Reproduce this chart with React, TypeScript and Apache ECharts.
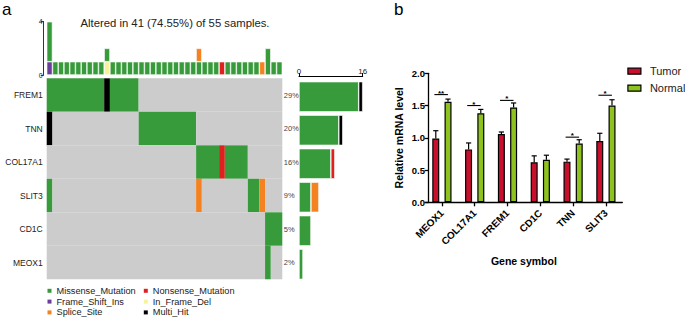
import React, { useEffect, useRef } from "react";
import * as echarts from "echarts";

const FONT = "'Liberation Sans', Arial, Helvetica, sans-serif";

// ---------- Panel a: oncoplot ----------
const totalSamples = 55;
const genesA = ["FREM1", "TNN", "COL17A1", "SLIT3", "CD1C", "MEOX1"];
const pctLabels = ["29%", "20%", "16%", "9%", "5%", "2%"];

// one character per altered sample (41 columns): M missense, H multi-hit, N nonsense, S splice site, . none
const FREM1_ROW = "MMMMMMMMMM" + "HMMMMM...." + ".........." + ".........." + ".";
const TNN_ROW = "H........." + "......MMMM" + "MMMMMM...." + ".........." + ".";
const COL17A1_ROW = ".........." + ".........." + "......MMMM" + "NMMMM....." + ".";
const SLIT3_ROW = "M........." + ".........." + "......S..." + ".....MMS.." + ".";
const CD1C_ROW = ".........." + ".........." + ".........." + "........MM" + "M";
const MEOX1_ROW = ".........." + ".........." + ".........." + "........M." + ".";
const geneRows = [FREM1_ROW, TNN_ROW, COL17A1_ROW, SLIT3_ROW, CD1C_ROW, MEOX1_ROW];

// top bar: mutation counts per sample
const topMissense = [3,1,1,1,1,1,1,1,1,1, 1,1,1,1,1,1,1,1,1,1, 1,1,1,1,1,1,1,1,1,1, 0,1,1,1,1,1,1,0,2,1, 1];
const topFrameShift = [1,0,0,0,0,0,0,0,0,0, 0,0,0,0,0,0,0,0,0,0, 0,0,0,0,0,0,0,0,0,0, 0,0,0,0,0,0,0,0,0,0, 0];
const topInFrameDel = [0,0,0,0,0,0,0,0,0,0, 1,0,0,0,0,0,0,0,0,0, 0,0,0,0,0,0,0,0,0,0, 0,0,0,0,0,0,0,0,0,0, 0];
const topSplice = [0,0,0,0,0,0,0,0,0,0, 0,0,0,0,0,0,0,0,0,0, 0,0,0,0,0,0,1,0,0,0, 0,0,0,0,0,0,0,1,0,0, 0];
const topNonsense = [0,0,0,0,0,0,0,0,0,0, 0,0,0,0,0,0,0,0,0,0, 0,0,0,0,0,0,0,0,0,0, 1,0,0,0,0,0,0,0,0,0, 0];

// right bar: samples per gene by type
const rightMissense = [15, 10, 8, 3, 3, 1];
const rightMulti = [1, 1, 0, 0, 0, 0];
const rightNonsense = [0, 0, 1, 0, 0, 0];
const rightSplice = [0, 0, 0, 2, 0, 0];
const rightTicks = [0, 16];

// ---------- Panel b: qPCR ----------
const genesB = ["MEOX1", "COL17A1", "FREM1", "CD1C", "TNN", "SLIT3"];
const tumor = [0.99, 0.82, 1.06, 0.62, 0.63, 0.95];
const tumorErr = [1.11, 0.92, 1.09, 0.72, 0.67, 1.07];
const normal = [1.56, 1.38, 1.47, 0.66, 0.91, 1.5];
const normalErr = [1.6, 1.44, 1.54, 0.73, 0.97, 1.59];
const sigLabels = ["**", "*", "*", "", "*", "*"];
const sigY = [1.67, 1.5, 1.58, 0, 1.01, 1.66];

const COLORS: Record<string, string> = {
  Missense_Mutation: "#389b3b",
  Nonsense_Mutation: "#e0201f",
  Frame_Shift_Ins: "#6a3d9a",
  In_Frame_Del: "#f7f39a",
  Splice_Site: "#f58220",
  Multi_Hit: "#000000",
};
const codeTypes = [".", "M", "H", "N", "S"];
const codeColors = ["#cccccc", COLORS.Missense_Mutation, COLORS.Multi_Hit, COLORS.Nonsense_Mutation, COLORS.Splice_Site];

const TUMOR_COLOR = "#c8102e";
const NORMAL_COLOR = "#8dc21f";

function buildOption() {
  const nAltered = FREM1_ROW.length;
  const samples = Array.from({ length: nAltered }, (_, i) => "S" + (i + 1));
  const titleText = `Altered in ${nAltered} (${((nAltered / totalSamples) * 100).toFixed(2)}%) of ${totalSamples} samples.`;
  const z = (arr: number[]) => arr.map((v) => (v === 0 ? "-" : v));

  // merge consecutive identical cells of each gene row into runs: [startCol, endCol, row, code]
  const matrixData: number[][] = [];
  geneRows.forEach((row, r) => {
    let start = 0;
    for (let c = 1; c <= row.length; c++) {
      if (c === row.length || row[c] !== row[start]) {
        matrixData.push([start, c - 1, r, codeTypes.indexOf(row[start])]);
        start = c;
      }
    }
  });

  const topBar = (name: string, data: number[]) => ({
    type: "bar",
    name,
    xAxisIndex: 0,
    yAxisIndex: 0,
    stack: "tmb",
    barCategoryGap: "0%",
    data: z(data),
    itemStyle: { color: COLORS[name], borderColor: "#ffffff", borderWidth: 0.6 },
    silent: true,
  });
  const rightBar = (name: string, data: number[]) => ({
    type: "bar",
    name,
    xAxisIndex: 2,
    yAxisIndex: 3,
    stack: "gene",
    barCategoryGap: "10%",
    data: z(data),
    itemStyle: { color: COLORS[name], borderColor: "#ffffff", borderWidth: 0.6 },
    silent: true,
  });

  const errData = [
    ...tumor.map((v, i) => [i, v, tumorErr[i], -1]),
    ...normal.map((v, i) => [i, v, normalErr[i], 1]),
  ];
  const sigData = sigY.map((v, i) => [i, v]).filter((d) => sigLabels[d[0]] !== "");

  const legendText = { fontSize: 9.2, lineHeight: 10, color: "#222" };

  return {
    animation: false,
    backgroundColor: "#ffffff",
    textStyle: { fontFamily: FONT },
    grid: [
      { left: 46.7, top: 21.7, width: 235.6, height: 53.3 },
      { left: 46.7, top: 78.3, width: 235.6, height: 201 },
      { left: 299, top: 80, width: 63.7, height: 201 },
      { left: 425.5, top: 73.3, width: 196.8, height: 129 },
    ],
    xAxis: [
      { type: "category", gridIndex: 0, data: samples, show: false },
      { type: "category", gridIndex: 1, data: samples, show: false },
      {
        type: "value",
        gridIndex: 2,
        position: "top",
        offset: 4,
        min: rightTicks[0],
        max: rightTicks[1],
        interval: rightTicks[1],
        axisLine: { show: true, lineStyle: { color: "#000", width: 1 } },
        axisTick: { show: true, length: 3, lineStyle: { color: "#000", width: 1 } },
        axisLabel: { fontSize: 8, margin: 1, color: "#222" },
        splitLine: { show: false },
      },
      {
        type: "category",
        gridIndex: 3,
        data: genesB,
        axisLine: { show: true, lineStyle: { color: "#000", width: 1.3 } },
        axisTick: { show: true, alignWithLabel: true, length: 4, lineStyle: { color: "#000", width: 1.3 } },
        axisLabel: { rotate: 45, fontSize: 10, fontWeight: "bold", color: "#000", margin: 9, interval: 0 },
        name: "Gene symbol",
        nameLocation: "middle",
        nameGap: 53,
        nameTextStyle: { fontSize: 10.5, fontWeight: "bold", color: "#000" },
      },
    ],
    yAxis: [
      {
        type: "value",
        gridIndex: 0,
        min: 0,
        max: 4,
        interval: 4,
        offset: 3,
        axisLine: { show: true, lineStyle: { color: "#000", width: 0.8 } },
        axisTick: { show: true, length: 3, lineStyle: { color: "#000", width: 0.8 } },
        axisLabel: { fontSize: 7, margin: 1, color: "#222" },
        splitLine: { show: false },
      },
      {
        type: "category",
        gridIndex: 1,
        data: genesA,
        inverse: true,
        axisLine: { show: false },
        axisTick: { show: false },
        axisLabel: { fontSize: 8.5, margin: 4, color: "#222" },
      },
      {
        type: "category",
        gridIndex: 1,
        position: "right",
        data: pctLabels,
        inverse: true,
        axisLine: { show: false },
        axisTick: { show: false },
        axisLabel: { fontSize: 7.5, margin: 1.5, color: "#444" },
      },
      { type: "category", gridIndex: 2, data: genesA, inverse: true, show: false },
      {
        type: "value",
        gridIndex: 3,
        min: 0,
        max: 2,
        interval: 0.5,
        offset: -3,
        axisLine: { show: true, lineStyle: { color: "#000", width: 1.3 } },
        axisTick: { show: true, length: 4, lineStyle: { color: "#000", width: 1.3 } },
        axisLabel: {
          fontSize: 9.5,
          fontWeight: "bold",
          color: "#000",
          margin: 3.5,
          formatter: (v: number) => v.toFixed(1),
        },
        splitLine: { show: false },
        name: "Relative mRNA level",
        nameLocation: "middle",
        nameGap: 24,
        nameRotate: 90,
        nameTextStyle: { fontSize: 10.5, fontWeight: "bold", color: "#000" },
      },
    ],
    legend: [
      {
        data: ["Missense_Mutation", "Frame_Shift_Ins", "Splice_Site"],
        orient: "vertical",
        left: 47.5,
        top: 285.8,
        padding: 0,
        itemWidth: 4,
        itemHeight: 4,
        itemGap: 0.8,
        icon: "rect",
        selectedMode: false,
        itemStyle: { borderWidth: 0 },
        textStyle: legendText,
      },
      {
        data: ["Nonsense_Mutation", "In_Frame_Del", "Multi_Hit"],
        orient: "vertical",
        left: 143.8,
        top: 285.8,
        padding: 0,
        itemWidth: 4,
        itemHeight: 4,
        itemGap: 0.8,
        icon: "rect",
        selectedMode: false,
        itemStyle: { borderWidth: 0 },
        textStyle: legendText,
      },
      {
        data: ["Tumor", "Normal"],
        orient: "vertical",
        left: 627.3,
        top: 65.2,
        padding: 0,
        itemWidth: 13,
        itemHeight: 6,
        itemGap: 5,
        icon: "rect",
        selectedMode: false,
        itemStyle: { borderColor: "#000", borderWidth: 1.2 },
        textStyle: { fontSize: 11, lineHeight: 12, color: "#222", padding: [0, 0, 0, 4] },
      },
    ],
    graphic: [
      { type: "text", x: 2, y: 9, style: { text: "a", fontSize: 17, fill: "#000", verticalAlign: "middle", fontFamily: FONT } },
      { type: "text", x: 394, y: 9, style: { text: "b", fontSize: 17, fill: "#000", verticalAlign: "middle", fontFamily: FONT } },
      {
        type: "text",
        x: 175,
        y: 23,
        style: { text: titleText, fontSize: 11.3, fill: "#222", align: "center", verticalAlign: "middle", fontFamily: FONT },
      },
    ],
    series: [
      topBar("Frame_Shift_Ins", topFrameShift),
      topBar("In_Frame_Del", topInFrameDel),
      topBar("Missense_Mutation", topMissense),
      topBar("Splice_Site", topSplice),
      topBar("Nonsense_Mutation", topNonsense),
      {
        type: "custom",
        name: "matrix",
        xAxisIndex: 1,
        yAxisIndex: 1,
        silent: true,
        data: matrixData,
        renderItem: (_p: any, api: any) => {
          const c0 = api.value(0);
          const c1 = api.value(1);
          const r = api.value(2);
          const t = api.value(3);
          const p0 = api.coord([c0, r]);
          const p1 = api.coord([c1, r]);
          const s = api.size([1, 1]);
          return {
            type: "rect",
            shape: { x: p0[0] - s[0] / 2, y: p0[1] - s[1] / 2, width: p1[0] - p0[0] + s[0], height: s[1] },
            style: { fill: codeColors[t] },
          };
        },
      },
      rightBar("Missense_Mutation", rightMissense),
      rightBar("Multi_Hit", rightMulti),
      rightBar("Nonsense_Mutation", rightNonsense),
      rightBar("Splice_Site", rightSplice),
      {
        type: "bar",
        name: "Tumor",
        xAxisIndex: 3,
        yAxisIndex: 4,
        barWidth: 7,
        barGap: "75%",
        data: tumor,
        itemStyle: { color: TUMOR_COLOR, borderColor: "#000", borderWidth: 1.2 },
        silent: true,
      },
      {
        type: "bar",
        name: "Normal",
        xAxisIndex: 3,
        yAxisIndex: 4,
        barWidth: 7,
        barGap: "75%",
        data: normal,
        itemStyle: { color: NORMAL_COLOR, borderColor: "#000", borderWidth: 1.2 },
        silent: true,
      },
      {
        type: "custom",
        name: "errors",
        xAxisIndex: 3,
        yAxisIndex: 4,
        silent: true,
        z: 5,
        data: errData,
        renderItem: (_p: any, api: any) => {
          const i = api.value(0);
          const top = api.value(1);
          const err = api.value(2);
          const side = api.value(3);
          const a = api.coord([i, top]);
          const b = api.coord([i, err]);
          const x = a[0] + side * 6.1;
          return {
            type: "group",
            children: [
              { type: "line", shape: { x1: x, y1: a[1], x2: x, y2: b[1] }, style: { stroke: "#000", lineWidth: 1.2 } },
              { type: "line", shape: { x1: x - 2.6, y1: b[1], x2: x + 2.6, y2: b[1] }, style: { stroke: "#000", lineWidth: 1.2 } },
            ],
          };
        },
      },
      {
        type: "custom",
        name: "significance",
        xAxisIndex: 3,
        yAxisIndex: 4,
        silent: true,
        z: 5,
        data: sigData,
        renderItem: (_p: any, api: any) => {
          const i = api.value(0);
          const y = api.value(1);
          const p = api.coord([i, y]);
          return {
            type: "group",
            children: [
              { type: "line", shape: { x1: p[0] - 7.5, y1: p[1], x2: p[0] + 6, y2: p[1] }, style: { stroke: "#000", lineWidth: 1.1 } },
              {
                type: "text",
                x: p[0] - 0.8,
                y: p[1] + 2.5,
                style: { text: sigLabels[i], fontSize: 8, fontWeight: "bold", fill: "#000", align: "center", verticalAlign: "bottom", fontFamily: FONT },
              },
            ],
          };
        },
      },
    ],
  };
}

export default function App() {
  const ref = useRef<HTMLDivElement>(null);
  useEffect(() => {
    if (!ref.current) return;
    const chart = echarts.init(ref.current, null, { renderer: "svg", width: 685, height: 319 });
    chart.setOption(buildOption() as any);
    return () => chart.dispose();
  }, []);
  return (
    <div
      ref={ref}
      style={{ position: "absolute", left: 0, top: 0, width: 685, height: 319, background: "#fff" }}
    />
  );
}
